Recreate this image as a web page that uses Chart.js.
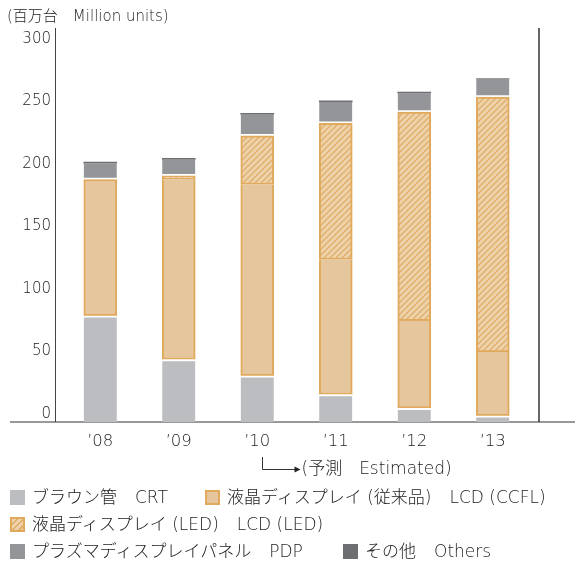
<!DOCTYPE html>
<html lang="ja">
<head>
<meta charset="utf-8">
<script src="https://cdn.jsdelivr.net/npm/chart.js@4.4.1/dist/chart.umd.min.js"></script>
<style>
    html, body { margin: 0; padding: 0; background: #fff; }
    body { width: 575px; height: 564px; overflow: hidden; font-family: "DejaVu Sans", "Noto Sans CJK JP", sans-serif; font-weight: 300; color: #222; }
    .wrap { position: relative; width: 575px; height: 564px; }
    canvas { position: absolute; left: 0; top: 0; }
    .unit { position: absolute; left: 7px; top: 4px; font-size: 15px; white-space: pre; }
    .legend { position: absolute; left: 10px; top: 484px; line-height: 27px; }
    .row { position: relative; height: 27px; white-space: pre; }
    .item { position: absolute; top: 0; display: flex; align-items: center; height: 27px; }
    .sw { width: 15px; height: 15px; margin-right: 7px; box-sizing: border-box; }
    .jp { font-size: 17px; }
    .en { font-size: 17px; margin-left: 18px; }
</style>
</head>
<body>
<div class="wrap">
    <canvas id="tvChart" width="575" height="564"></canvas>
    <div class="unit">(百万台　Million units)</div>
    <div class="legend">
        <div class="row">
            <span class="item" style="left:0"><span class="sw" style="background:#bcbdc0"></span><span class="jp">ブラウン管</span><span class="en">CRT</span></span>
            <span class="item" style="left:195px"><span class="sw" style="background:#e6c69c;border:2px solid #e0a95b"></span><span class="jp">液晶ディスプレイ (従来品)</span><span class="en">LCD (CCFL)</span></span>
        </div>
        <div class="row">
            <span class="item" style="left:0"><span class="sw" style="border:2px solid #e0a95b;background:repeating-linear-gradient(135deg,#eed2ab 0 3px,#dfae68 3px 4.5px)"></span><span class="jp">液晶ディスプレイ (LED)</span><span class="en">LCD (LED)</span></span>
        </div>
        <div class="row">
            <span class="item" style="left:0"><span class="sw" style="background:#939598"></span><span class="jp">プラズマディスプレイパネル</span><span class="en">PDP</span></span>
            <span class="item" style="left:333px"><span class="sw" style="background:#6d6e71"></span><span class="jp">その他</span><span class="en">Others</span></span>
        </div>
    </div>
</div>
<script>
// values in million units
const years = ['\u201908', '\u201909', '\u201910', '\u201911', '\u201912', '\u201913'];
const crt = [85, 50, 37, 22, 11, 5];
const lcdCcfl = [109, 144, 153, 108, 70, 51];
const lcdLed = [0, 3, 39, 109, 167, 204];
const pdp = [13, 13, 17, 17, 15, 15];
const others = [1, 1, 1, 1, 1, 0];
const yTicks = [0, 50, 100, 150, 200, 250, 300];
const estimatedFrom = 2; // index of '10

const orange = '#e0a95b';
const fontFamily = '"DejaVu Sans", "Noto Sans CJK JP", sans-serif';

function makeHatch() {
    const c = document.createElement('canvas');
    c.width = 6;
    c.height = 6;
    const g = c.getContext('2d');
    g.fillStyle = '#eed2ab';
    g.fillRect(0, 0, 6, 6);
    g.strokeStyle = '#dfae68';
    g.lineWidth = 1.3;
    g.beginPath();
    g.moveTo(-1, 7); g.lineTo(7, -1);
    g.moveTo(-1, 1); g.lineTo(1, -1);
    g.moveTo(5, 7); g.lineTo(7, 5);
    g.stroke();
    return g.createPattern(c, 'repeat');
}

const framePlugin = {
    id: 'frame',
    beforeDatasetsDraw(chart) {
        const ctx = chart.ctx;
        const area = chart.chartArea;
        const y = chart.scales.y;
        const base = y.getPixelForValue(0);
        const top = y.getPixelForValue(300) - 19;
        ctx.save();
        ctx.strokeStyle = '#777';
        ctx.lineWidth = 1.5;
        ctx.beginPath();
        ctx.moveTo(10, base);
        ctx.lineTo(chart.width, base);
        ctx.stroke();
        ctx.strokeStyle = '#444';
        ctx.lineWidth = 1;
        ctx.beginPath();
        ctx.moveTo(Math.round(area.left - 6) + 0.5, top);
        ctx.lineTo(Math.round(area.left - 6) + 0.5, base);
        ctx.stroke();
        ctx.lineWidth = 1.5;
        ctx.strokeStyle = '#333';
        ctx.beginPath();
        ctx.moveTo(area.right + 7, top);
        ctx.lineTo(area.right + 7, base);
        ctx.stroke();
        ctx.restore();
    },
    afterDraw(chart) {
        const ctx = chart.ctx;
        const base = chart.scales.y.getPixelForValue(0);
        const x0 = Math.round(chart.scales.x.getPixelForValue(estimatedFrom) + 5) + 0.5;
        const y0 = base + 35;
        const y1 = Math.round(base + 47) + 0.5;
        ctx.save();
        ctx.strokeStyle = '#333';
        ctx.fillStyle = '#222';
        ctx.lineWidth = 1;
        ctx.beginPath();
        ctx.moveTo(x0, y0);
        ctx.lineTo(x0, y1);
        ctx.lineTo(x0 + 33, y1);
        ctx.stroke();
        ctx.beginPath();
        ctx.moveTo(x0 + 38, y1);
        ctx.lineTo(x0 + 32, y1 - 3);
        ctx.lineTo(x0 + 32, y1 + 3);
        ctx.closePath();
        ctx.fill();
        ctx.font = '300 17px ' + fontFamily;
        ctx.textBaseline = 'middle';
        ctx.fillText('(予測　Estimated)', x0 + 39, y1);
        ctx.restore();
    }
};

document.addEventListener('DOMContentLoaded', function() {
    const hatch = makeHatch();
    const ctx = document.getElementById('tvChart').getContext('2d');

    new Chart(ctx, {
        type: 'bar',
        data: {
            labels: years,
            datasets: [
                {
                    label: 'ブラウン管　CRT',
                    data: crt,
                    backgroundColor: '#bcbdc0',
                    borderColor: '#fff',
                    borderWidth: { top: 2, bottom: 0, left: 0, right: 0 },
                    borderSkipped: false
                },
                {
                    label: '液晶ディスプレイ(従来品)　LCD(CCFL)',
                    data: lcdCcfl,
                    backgroundColor: '#e6c69c',
                    borderColor: orange,
                    borderWidth: c => ({ top: lcdLed[c.dataIndex] > 0 ? 0 : 2, bottom: 2, left: 2, right: 2 }),
                    borderSkipped: false
                },
                {
                    label: '液晶ディスプレイ(LED)　LCD(LED)',
                    data: lcdLed,
                    backgroundColor: hatch,
                    borderColor: orange,
                    borderWidth: 2,
                    borderSkipped: false
                },
                {
                    label: 'プラズマディスプレイパネル　PDP',
                    data: pdp,
                    backgroundColor: '#939598',
                    borderColor: '#fff',
                    borderWidth: { top: 0, bottom: 2, left: 0, right: 0 },
                    borderSkipped: false
                },
                {
                    label: 'その他　Others',
                    data: others,
                    backgroundColor: '#6d6e71',
                    borderWidth: 0
                }
            ]
        },
        options: {
            responsive: false,
            animation: false,
            events: [],
            layout: { padding: { top: 47, right: 43, left: 0, bottom: 0 } },
            datasets: { bar: { barThickness: 33 } },
            plugins: {
                legend: { display: false },
                tooltip: { enabled: false }
            },
            scales: {
                x: {
                    stacked: true,
                    grid: { display: false, drawTicks: false },
                    border: { display: false },
                    ticks: { color: '#222', font: { family: fontFamily, size: 16.5, weight: 300 }, padding: 10 },
                    afterFit: s => { s.height = 564 - 422; }
                },
                y: {
                    stacked: true,
                    min: 0,
                    max: 300,
                    grid: { display: false, drawTicks: false },
                    border: { display: false },
                    afterBuildTicks: s => { s.ticks = yTicks.map(v => ({ value: v })); },
                    ticks: { color: '#222', font: { family: fontFamily, size: 15, weight: 300 }, padding: 10, labelOffset: -8 },
                    afterFit: s => { s.width = 61; }
                }
            }
        },
        plugins: [framePlugin]
    });
});
</script>
</body>
</html>
